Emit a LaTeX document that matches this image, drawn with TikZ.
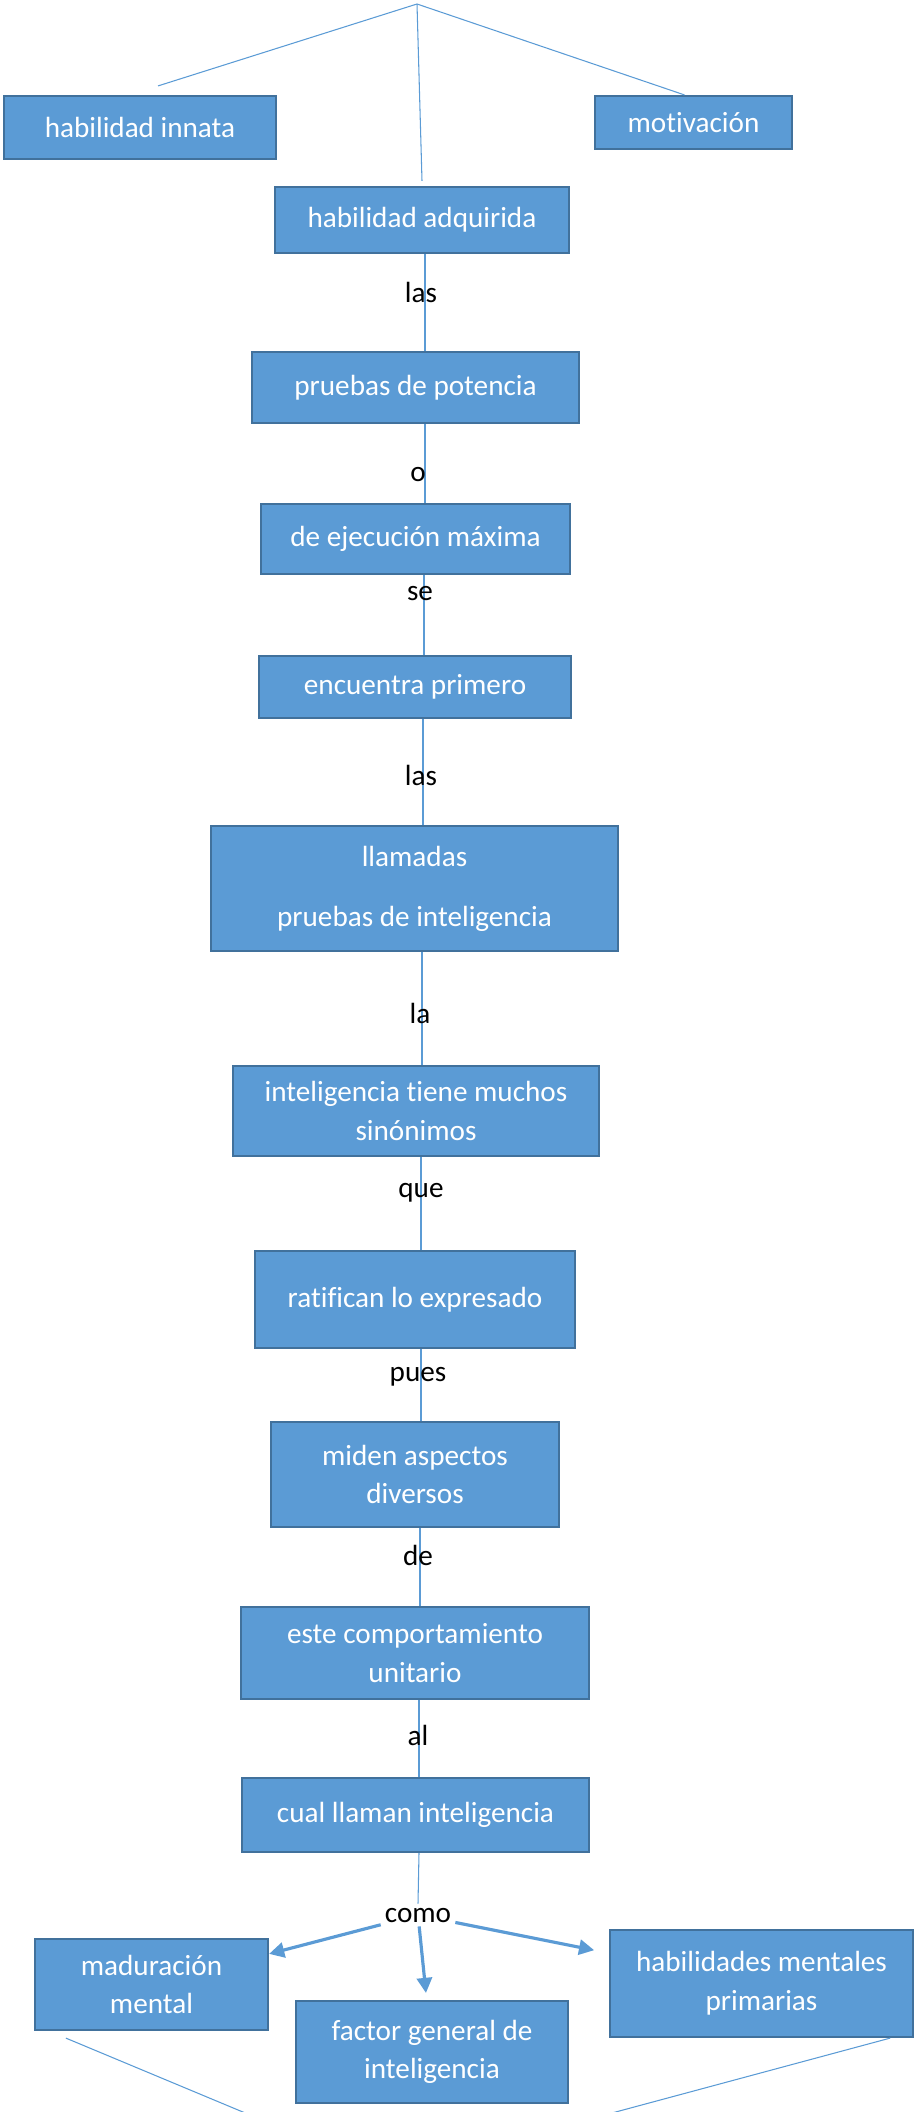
\documentclass[tikz,border=0pt]{standalone}
\usepackage{fontspec}
\setmainfont[Ligatures=NoCommon]{Carlito}
\usetikzlibrary{arrows.meta}
\definecolor{cajaazul}{HTML}{5B9BD5}
\definecolor{bordeazul}{HTML}{41719C}
\tikzset{
	caja/.style={draw=bordeazul, line width=0.6pt, fill=cajaazul, text=white, align=center, inner sep=0pt, font=\fontsize{8.3}{11}\selectfont},
	enlace/.style={text=black, inner sep=1pt, font=\fontsize{8.3}{11}\selectfont},
	linea/.style={draw=cajaazul, line width=0.3pt},
	flecha/.style={draw=cajaazul, line width=0.9pt, -{Triangle[length=4.3pt,width=4.3pt]}}
}
\begin{document}
\begin{tikzpicture}[x=0.01cm, y=-0.01cm]
			%%%%% START %%%%%
			\useasboundingbox (0,0) rectangle (916,2112);
			\clip (0,0) rectangle (916,2112);
			
			\coordinate (arriba) at (417,4);
			\coordinate (abajo) at (389,2173);
			
			\node[caja, minimum width=2.72cm, minimum height=0.63cm] (innata) at (140,127.5) {habilidad innata};
			\node[caja, minimum width=1.97cm, minimum height=0.53cm] (motiv) at (693.5,122.5) {motivación};
			\node[caja, minimum width=2.94cm, minimum height=0.66cm] (adquirida) at (422,220) {habilidad adquirida};
			
			\node[caja, minimum width=3.27cm, minimum height=0.71cm] (potencia) at (415.5,387.5) {pruebas de potencia};
			\node[caja, minimum width=3.09cm, minimum height=0.70cm] (ejecucion) at (415.5,539) {de ejecución máxima};
			\node[caja, minimum width=3.12cm, minimum height=0.62cm] (encuentra) at (415,687) {encuentra primero};
			\node[caja, minimum width=4.07cm, minimum height=1.25cm] (llamadas) at (414.5,888.5) {llamadas\\[6pt]pruebas de inteligencia};
			\node[caja, minimum width=3.66cm, minimum height=0.90cm] (sinonimos) at (416,1111) {inteligencia tiene muchos\\sinónimos};
			\node[caja, minimum width=3.20cm, minimum height=0.97cm] (ratifican) at (415,1299.5) {ratifican lo expresado};
			\node[caja, minimum width=2.88cm, minimum height=1.05cm] (miden) at (415,1474.5) {miden aspectos\\diversos};
			\node[caja, minimum width=3.48cm, minimum height=0.92cm] (comport) at (415,1653) {este comportamiento\\unitario};
			\node[caja, minimum width=3.47cm, minimum height=0.74cm] (cual) at (415.5,1815) {cual llaman inteligencia};
			
			\node[caja, minimum width=2.33cm, minimum height=0.91cm] (madur) at (151.5,1984.5) {maduración\\mental};
			\node[caja, minimum width=2.72cm, minimum height=1.02cm] (factor) at (432,2052) {factor general de\\inteligencia};
			\node[caja, minimum width=3.03cm, minimum height=1.07cm] (primarias) at (761.5,1983.5) {habilidades mentales\\primarias};
			
			% lineas de arriba
			\draw[linea] (arriba) -- ([shift={(18,-9)}]innata.north);
			\draw[linea] (arriba) -- ([shift={(-9,0)}]motiv.north);
			\draw[linea] (arriba) -- ([shift={(0,-5)}]adquirida.north);
			
			% cadena central
			\draw[linea] ([shift={(3,0)}]adquirida.south) -- ([shift={(9.5,0)}]potencia.north);
			\draw[linea] ([shift={(9.5,0)}]potencia.south) -- ([shift={(9.5,0)}]ejecucion.north);
			\draw[linea] ([shift={(8.5,0)}]ejecucion.south) -- ([shift={(9,0)}]encuentra.north);
			\draw[linea] ([shift={(8,0)}]encuentra.south) -- ([shift={(8.5,0)}]llamadas.north);
			\draw[linea] ([shift={(7.5,0)}]llamadas.south) -- ([shift={(6,0)}]sinonimos.north);
			\draw[linea] ([shift={(5,0)}]sinonimos.south) -- ([shift={(6,0)}]ratifican.north);
			\draw[linea] ([shift={(6,0)}]ratifican.south) -- ([shift={(6,0)}]miden.north);
			\draw[linea] ([shift={(5,0)}]miden.south) -- ([shift={(5,0)}]comport.north);
			\draw[linea] ([shift={(4,0)}]comport.south) -- ([shift={(3.5,0)}]cual.north);
			
			\node[enlace] (e1) at (421,292) {las};
			\node[enlace] (e2) at (418,475) {o};
			\node[enlace] (e3) at (420,594) {se};
			\node[enlace] (e4) at (421,775) {las};
			\node[enlace] (e5) at (420,1013) {la};
			\node[enlace] (e6) at (421,1193) {que};
			\node[enlace] (e7) at (418,1377) {pues};
			\node[enlace] (e8) at (418,1555) {de};
			\node[enlace] (e9) at (418,1735) {al};
			\node[enlace] (como) at (418,1915) {como};
			
			\draw[linea] ([shift={(3.5,0)}]cual.south) -- (como.north);
			
			% flechas de abajo
			\draw[flecha] (como) -- (madur);
			\draw[flecha, shorten >=0.07cm] (como) -- (factor);
			\draw[flecha, shorten >=0.15cm] (como) -- (primarias);
			
			\draw[linea] ([shift={(32,7)}]madur.south west) -- (abajo);
			\draw[linea] ([shift={(-24,0)}]primarias.south east) -- (abajo);
			
			%%%%% END %%%%%
\end{tikzpicture}
\end{document}
